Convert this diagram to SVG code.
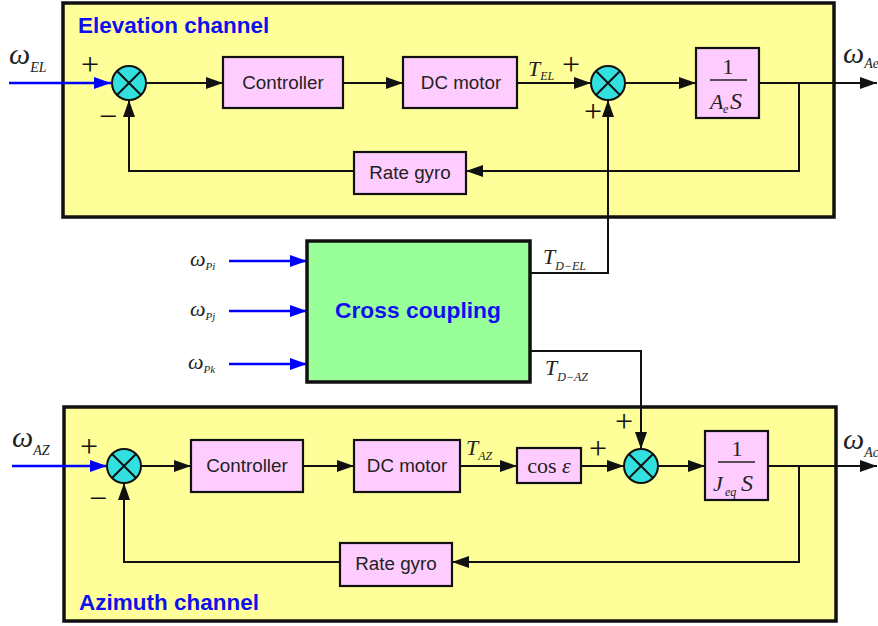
<svg xmlns="http://www.w3.org/2000/svg" width="878" height="626" viewBox="0 0 878 626">
<style>
.panel{fill:#FFFF99;stroke:#111;stroke-width:3.5}
.blk{fill:#FFCCFF;stroke:#111;stroke-width:2.2}
.sum{fill:#33E0E0;stroke:#111;stroke-width:2}
.x{stroke:#111;stroke-width:2}
.ln{fill:none;stroke:#111;stroke-width:2}
.bl{fill:none;stroke:#0000FF;stroke-width:2.5}
.t{font-family:"Liberation Sans",Arial,sans-serif;font-size:18.8px;fill:#222;text-anchor:middle}
.h{font-family:"Liberation Sans",Arial,sans-serif;font-size:22.5px;font-weight:bold;fill:#1010EE}
.m{font-family:"Liberation Serif","Times New Roman",serif;font-style:italic;fill:#222}
.p{font-family:"Liberation Serif","Times New Roman",serif;font-size:32px;fill:#111;text-anchor:middle}
</style>
<defs>
<marker id="a" markerUnits="userSpaceOnUse" markerWidth="17" markerHeight="12" refX="17" refY="6" orient="auto"><path d="M0,0 L17,6 L0,12 z" fill="#111"/></marker>
<marker id="b" markerUnits="userSpaceOnUse" markerWidth="17" markerHeight="12" refX="17" refY="6" orient="auto"><path d="M0,0 L17,6 L0,12 z" fill="#0000FF"/></marker>
</defs>
<rect width="878" height="626" fill="#fff"/>
<g id="elevation-panel">
<rect class="panel" x="63" y="3" width="771" height="214"/>
<text class="h" x="78" y="33">Elevation channel</text>
</g>
<g id="azimuth-panel">
<rect class="panel" x="64" y="407" width="772" height="214"/>
<text class="h" x="79" y="610">Azimuth channel</text>
</g>
<g id="connectors">
<path class="bl" d="M9,83 H111" marker-end="url(#b)"/>
<path class="ln" d="M146,83 H223" marker-end="url(#a)"/>
<path class="ln" d="M343,83 H403" marker-end="url(#a)"/>
<path class="ln" d="M517,83 H591" marker-end="url(#a)"/>
<path class="ln" d="M625,83 H696" marker-end="url(#a)"/>
<path class="ln" d="M759,83 H877" marker-end="url(#a)"/>
<path class="ln" d="M799,83 V171 H466" marker-end="url(#a)"/>
<path class="ln" d="M354,171 H129 V100" marker-end="url(#a)"/>
<path class="ln" d="M530,273 H608 V100" marker-end="url(#a)"/>
<path class="bl" d="M229,261 H307" marker-end="url(#b)"/>
<path class="bl" d="M229,311 H307" marker-end="url(#b)"/>
<path class="bl" d="M229,364 H307" marker-end="url(#b)"/>
<path class="ln" d="M530,351 H641 V449" marker-end="url(#a)"/>
<path class="bl" d="M12,466 H107" marker-end="url(#b)"/>
<path class="ln" d="M141,466 H191" marker-end="url(#a)"/>
<path class="ln" d="M303,466 H354" marker-end="url(#a)"/>
<path class="ln" d="M460,466 H517" marker-end="url(#a)"/>
<path class="ln" d="M581,466 H624" marker-end="url(#a)"/>
<path class="ln" d="M658,466 H705" marker-end="url(#a)"/>
<path class="ln" d="M768,466 H877" marker-end="url(#a)"/>
<path class="ln" d="M799,466 V562 H452" marker-end="url(#a)"/>
<path class="ln" d="M340,562 H124 V483" marker-end="url(#a)"/>
</g>
<g id="el-sum1">
<circle class="sum" cx="129" cy="83" r="17"/>
<path class="x" d="M117,71 L141,95 M141,71 L117,95"/>
<text class="p" x="90" y="75">+</text>
<text class="p" x="108" y="127">−</text>
</g>
<g id="el-controller"><rect class="blk" x="223" y="57" width="120" height="51"/><text class="t" x="283" y="89">Controller</text></g>
<g id="el-dcmotor"><rect class="blk" x="403" y="57" width="114" height="51"/><text class="t" x="461" y="89">DC motor</text></g>
<g id="el-sum2">
<circle class="sum" cx="608" cy="83" r="17"/>
<path class="x" d="M596,71 L620,95 M620,71 L596,95"/>
<text class="p" x="571" y="75">+</text>
<text class="p" x="593" y="122">+</text>
</g>
<g id="el-plant">
<rect class="blk" x="696" y="48" width="63" height="70"/>
<line x1="710" y1="80" x2="747" y2="80" stroke="#222" stroke-width="1.5"/>
<text x="728" y="74" font-family="Liberation Serif,serif" font-size="22" text-anchor="middle" fill="#222">1</text>
<text class="m" x="710" y="109" font-size="22">A</text>
<text class="m" x="723" y="113" font-size="12">e</text>
<text class="m" x="730" y="109" font-size="24">S</text>
</g>
<g id="el-rategyro"><rect class="blk" x="354" y="152" width="112" height="42"/><text class="t" x="410" y="179">Rate gyro</text></g>
<g id="cross-coupling">
<rect x="307" y="241" width="223" height="141" fill="#99FF99" stroke="#111" stroke-width="3.5"/>
<text x="418" y="318" font-family="Liberation Sans,Arial,sans-serif" font-size="22.8" font-weight="bold" fill="#1010EE" text-anchor="middle">Cross coupling</text>
</g>
<g id="az-sum1">
<circle class="sum" cx="124" cy="466" r="17"/>
<path class="x" d="M112,454 L136,478 M136,454 L112,478"/>
<text class="p" x="89" y="457">+</text>
<text class="p" x="98" y="509">−</text>
</g>
<g id="az-controller"><rect class="blk" x="191" y="440" width="112" height="52"/><text class="t" x="247" y="472">Controller</text></g>
<g id="az-dcmotor"><rect class="blk" x="354" y="440" width="106" height="52"/><text class="t" x="407" y="472">DC motor</text></g>
<g id="az-cos"><rect class="blk" x="517" y="448" width="64" height="35"/><text x="549" y="473" font-family="Liberation Serif,serif" font-size="22" text-anchor="middle" fill="#222">cos <tspan font-style="italic">ε</tspan></text></g>
<g id="az-sum2">
<circle class="sum" cx="641" cy="466" r="17"/>
<path class="x" d="M629,454 L653,478 M653,454 L629,478"/>
<text class="p" x="598" y="459">+</text>
<text class="p" x="624" y="432">+</text>
</g>
<g id="az-plant">
<rect class="blk" x="705" y="431" width="63" height="69"/>
<line x1="718" y1="462" x2="755" y2="462" stroke="#222" stroke-width="1.5"/>
<text x="737" y="456" font-family="Liberation Serif,serif" font-size="22" text-anchor="middle" fill="#222">1</text>
<text class="m" x="713" y="491" font-size="22">J</text>
<text class="m" x="725" y="496" font-size="12">eq</text>
<text class="m" x="741" y="491" font-size="24">S</text>
</g>
<g id="az-rategyro"><rect class="blk" x="340" y="543" width="112" height="43"/><text class="t" x="396" y="570">Rate gyro</text></g>
<g id="labels">
<text class="m" x="9" y="64" font-size="30">ω<tspan font-size="14" dy="8">EL</tspan></text>
<text class="m" x="12" y="447" font-size="30">ω<tspan font-size="14" dy="8">AZ</tspan></text>
<text class="m" x="843" y="63" font-size="30">ω<tspan font-size="14" dy="5">Ae</tspan></text>
<text class="m" x="843" y="449" font-size="30">ω<tspan font-size="14" dy="8">Ac</tspan></text>
<text class="m" x="528" y="76" font-size="22">T<tspan font-size="12" dy="4">EL</tspan></text>
<text class="m" x="466" y="455" font-size="22">T<tspan font-size="12" dy="5">AZ</tspan></text>
<text class="m" x="543" y="264" font-size="22">T<tspan font-size="12" dy="6">D−EL</tspan></text>
<text class="m" x="545" y="375" font-size="22">T<tspan font-size="12" dy="6">D−AZ</tspan></text>
<text class="m" x="190" y="266" font-size="22">ω<tspan font-size="11" dy="4">Pi</tspan></text>
<text class="m" x="190" y="316" font-size="22">ω<tspan font-size="11" dy="4">Pj</tspan></text>
<text class="m" x="188" y="369" font-size="22">ω<tspan font-size="11" dy="4">Pk</tspan></text>
</g>
</svg>
